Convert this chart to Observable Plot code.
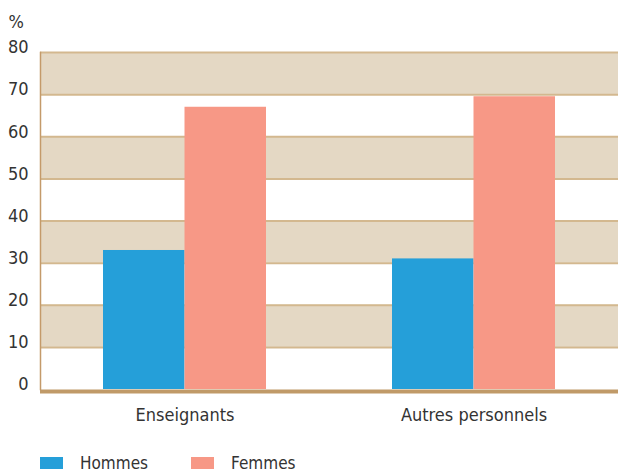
<!DOCTYPE html>
<html>
<head>
<meta charset="utf-8">
<script src="https://cdn.jsdelivr.net/npm/d3@7"></script>
<script src="https://cdn.jsdelivr.net/npm/@observablehq/plot@0.6"></script>
<style>
  html, body { margin: 0; padding: 0; background: #fff; }
  body { width: 618px; height: 475px; overflow: hidden; font-family: "DejaVu Sans Condensed", "Liberation Sans Narrow", sans-serif; color: #333; }
  #legend { display: flex; align-items: center; margin-left: 40px; margin-top: 13px; font-size: 17px; line-height: 20px; }
  .item { display: flex; align-items: center; margin-right: 43px; }
  .sw { width: 23px; height: 12px; margin-right: 17px; }
</style>
</head>
<body>
<div id="chart"></div>
<div id="legend"></div>
<script>
const categories = ["Enseignants", "Autres personnels"];
const series = ["Hommes", "Femmes"];
const hommes = [33, 31];
const femmes = [67, 69.5];
const yTicks = [0, 10, 20, 30, 40, 50, 60, 70, 80];
const bandStarts = [10, 30, 50, 70];
const colors = ["#259fd9", "#f79886"];

const data = categories.flatMap((c, i) => [
  {cat: c, sex: "Hommes", value: hommes[i]},
  {cat: c, sex: "Femmes", value: femmes[i]}
]);

const W = 618, H = 440;
function build(bw) {
  return Plot.plot({
    width: W, height: H,
    marginLeft: 40, marginRight: 0, marginTop: 52, marginBottom: H - 389,
    style: {fontFamily: "'DejaVu Sans Condensed', 'Liberation Sans Narrow', sans-serif", color: "#333", background: "transparent"},
    x: {domain: categories, paddingInner: 0.436, paddingOuter: 0.218},
    y: {domain: [0, 80]},
    marks: [
      Plot.rect(bandStarts, {y1: d => d, y2: d => d + 10, fill: "#e4d8c4"}),
      Plot.ruleY(yTicks.filter(d => d > 0), {stroke: "#d3b88f", strokeWidth: 2}),
      Plot.barY(data.filter(d => d.sex === "Hommes"), {x: "cat", y: "value", fill: colors[0], insetRight: bw / 2}),
      Plot.barY(data.filter(d => d.sex === "Femmes"), {x: "cat", y: "value", fill: colors[1], insetLeft: bw / 2}),
      Plot.frame({anchor: "left", stroke: "#c49a6a", strokeWidth: 1.5}),
      Plot.ruleY([0], {stroke: "#c09a68", strokeWidth: 4, dy: 2}),
      Plot.axisY(yTicks, {tickSize: 0, tickPadding: 12, fontSize: 18, dy: -5, label: null}),
      Plot.text(["%"], {frameAnchor: "top-left", text: d => d, dx: -32, dy: -37, fontSize: 18, textAnchor: "start", fill: "#333"}),
      Plot.axisX({tickSize: 0, tickPadding: 19, fontSize: 18, label: null})
    ]
  });
}
let p = build(0);
const bw = p.scale("x").bandwidth;
p = build(bw);
document.getElementById("chart").appendChild(p);

const legend = document.getElementById("legend");
series.forEach((s, i) => {
  const it = document.createElement("div");
  it.className = "item";
  it.innerHTML = `<span class="sw" style="background:${colors[i]}"></span><span>${s}</span>`;
  legend.appendChild(it);
});
</script>
</body>
</html>
